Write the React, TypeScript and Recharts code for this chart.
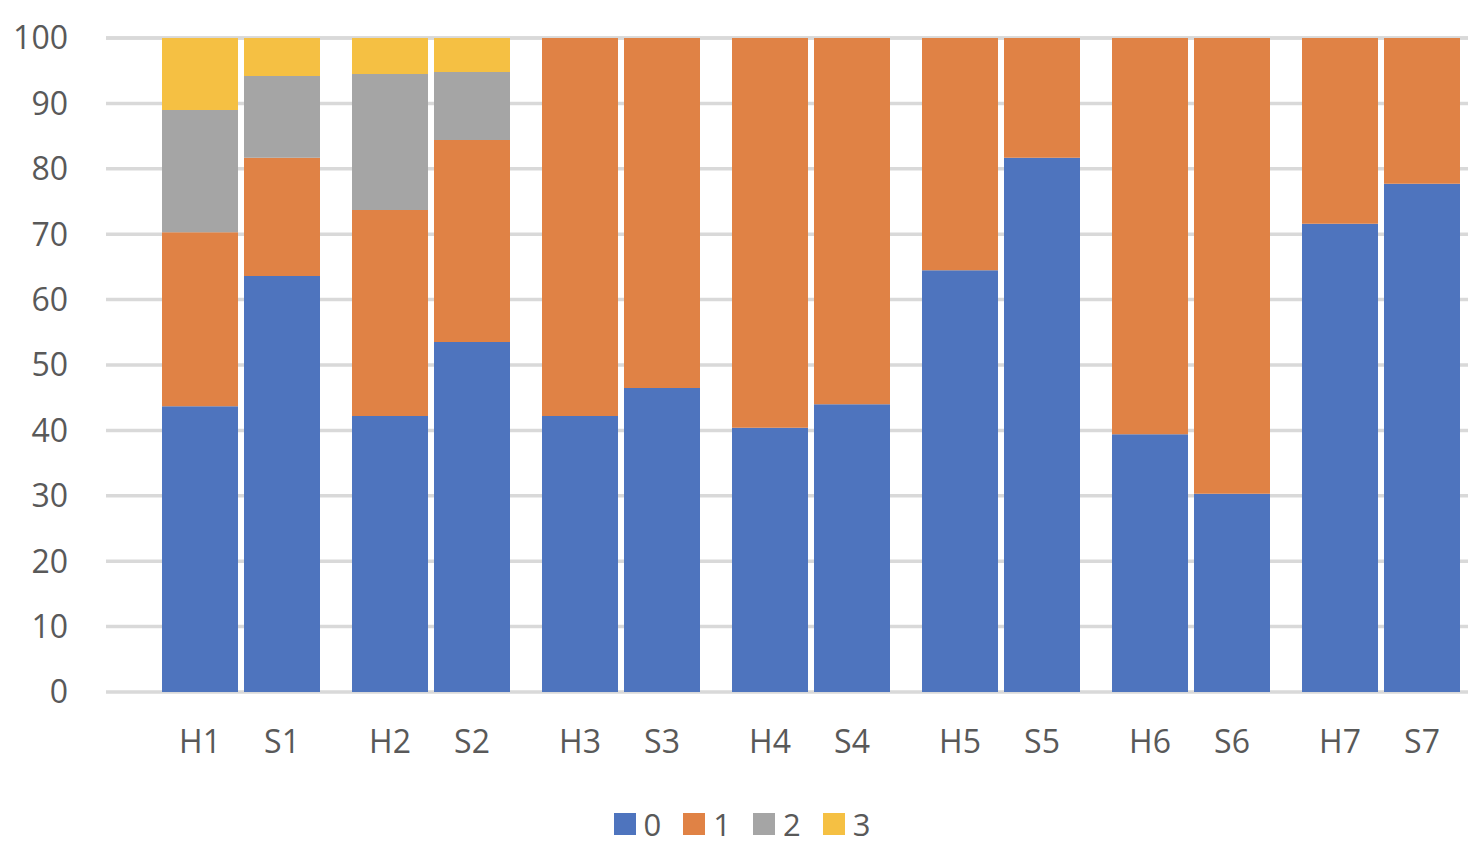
import { BarChart, Bar, XAxis, YAxis, CartesianGrid, Legend } from 'recharts';

// category labels, one pair per group
const hLabels = ['H1', 'H2', 'H3', 'H4', 'H5', 'H6', 'H7'];
const sLabels = ['S1', 'S2', 'S3', 'S4', 'S5', 'S6', 'S7'];

// series values (percent)
const hZero = [43.7, 42.2, 42.2, 40.4, 64.5, 39.4, 71.6];
const hOne = [26.6, 31.5, 57.8, 59.6, 35.5, 60.6, 28.4];
const hTwo = [18.7, 20.8, 0, 0, 0, 0, 0];
const hThree = [11.0, 5.5, 0, 0, 0, 0, 0];

const sZero = [63.6, 53.5, 46.5, 44.0, 81.7, 30.3, 77.7];
const sOne = [18.1, 30.9, 53.5, 56.0, 18.3, 69.7, 22.3];
const sTwo = [12.5, 10.4, 0, 0, 0, 0, 0];
const sThree = [5.8, 5.2, 0, 0, 0, 0, 0];

const seriesNames = ['0', '1', '2', '3'];
const yTicks = [0, 10, 20, 30, 40, 50, 60, 70, 80, 90, 100];

const colors = ['#4E74BE', '#E08245', '#A5A5A5', '#F5C043'];
const font = '"Open Sans", sans-serif';
const textColor = '#595959';

const data = hLabels.map((h, i) => ({
  pair: `${h}/${sLabels[i]}`,
  h0: hZero[i],
  h1: hOne[i],
  h2: hTwo[i],
  h3: hThree[i],
  s0: sZero[i],
  s1: sOne[i],
  s2: sTwo[i],
  s3: sThree[i],
}));

const PairTick = (props: any) => {
  const { x, y, payload } = props;
  const [h, s] = String(payload.value).split('/');
  return (
    <g>
      <text x={x - 41} y={y} textAnchor='middle' dominantBaseline='central' fill={textColor} fontSize={32} fontFamily={font}>
        {h}
      </text>
      <text x={x + 41} y={y} textAnchor='middle' dominantBaseline='central' fill={textColor} fontSize={32} fontFamily={font}>
        {s}
      </text>
    </g>
  );
};

const LegendBox = () => (
  <div style={{ display: 'flex', justifyContent: 'center', alignItems: 'center', height: 40 }}>
    {seriesNames.map((name, i) => (
      <div key={name} style={{ display: 'flex', alignItems: 'center', marginRight: i < seriesNames.length - 1 ? 22 : 0 }}>
        <span style={{ width: 22, height: 22, background: colors[i], marginRight: 8, display: 'inline-block' }} />
        <span style={{ fontSize: 31, color: textColor, fontFamily: font, lineHeight: '40px' }}>{name}</span>
      </div>
    ))}
  </div>
);

const App = () => {
  return (
    <div style={{ width: 1468, height: 852 }}>
      <BarChart
        width={1468}
        height={852}
        data={data}
        barSize={76}
        barGap={6}
        margin={{ top: 30, right: 0, left: 0, bottom: 16 }}
      >
        <CartesianGrid vertical={false} stroke='#D9D9D9' strokeWidth={3.5} />
        <XAxis
          dataKey='pair'
          height={112}
          padding={{ left: 40, right: 0 }}
          axisLine={false}
          tickLine={false}
          tickSize={0}
          tickMargin={48}
          tick={<PairTick />}
          interval={0}
        />
        <YAxis
          width={98}
          domain={[0, 100]}
          ticks={yTicks}
          axisLine={false}
          tickLine={false}
          tickSize={30}
          tickMargin={8}
          tick={{ fill: textColor, fontSize: 32, fontFamily: font }}
        />
        <Legend verticalAlign='bottom' align='center' content={<LegendBox />} />
        <Bar dataKey='h0' name='0' stackId='H' fill={colors[0]} isAnimationActive={false} />
        <Bar dataKey='h1' name='1' stackId='H' fill={colors[1]} isAnimationActive={false} />
        <Bar dataKey='h2' name='2' stackId='H' fill={colors[2]} isAnimationActive={false} />
        <Bar dataKey='h3' name='3' stackId='H' fill={colors[3]} isAnimationActive={false} />
        <Bar dataKey='s0' name='0' stackId='S' fill={colors[0]} legendType='none' isAnimationActive={false} />
        <Bar dataKey='s1' name='1' stackId='S' fill={colors[1]} legendType='none' isAnimationActive={false} />
        <Bar dataKey='s2' name='2' stackId='S' fill={colors[2]} legendType='none' isAnimationActive={false} />
        <Bar dataKey='s3' name='3' stackId='S' fill={colors[3]} legendType='none' isAnimationActive={false} />
      </BarChart>
    </div>
  );
};

export default App;
